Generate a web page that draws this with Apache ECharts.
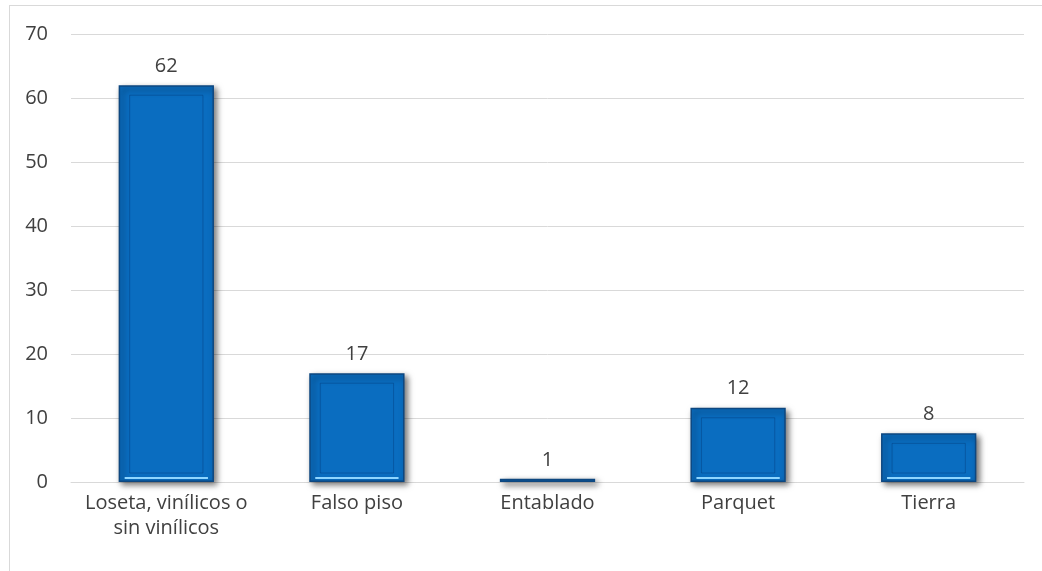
<!DOCTYPE html>
<html>
<head>
<meta charset="utf-8">
<script src="https://cdn.jsdelivr.net/npm/echarts@6/dist/echarts.min.js"></script>
<style>
  html, body { margin: 0; padding: 0; background: #fff; }
  #frame { position: absolute; left: 9px; top: 5px; width: 1040px; height: 570px; border: 1px solid #d9d9d9; box-sizing: border-box; }
  #chart { position: absolute; left: 0; top: 0; width: 1042px; height: 571px; }
</style>
</head>
<body>
<div id="frame"></div>
<div id="chart"></div>
<script>
// categories and values
const categories = ['Loseta, vinílicos o\nsin vinílicos', 'Falso piso', 'Entablado', 'Parquet', 'Tierra'];
const values = [62, 17, 0.5, 11.6, 7.6];
const labelValues = [62, 17, 1, 12, 8];
const yTicks = { min: 0, max: 70, interval: 10 };

const FONT = "'Open Sans', 'Noto Sans', sans-serif";
const TEXT = '#404040';

// bevel look: inner outline + light strip at the base of each bar
function renderBevel(params, api) {
  const idx = api.value(0);
  const top = api.coord([idx, api.value(1)]);
  const base = api.coord([idx, 0]);
  const w = api.size([1, 0])[0] * 0.5;
  const h = base[1] - top[1];
  const left = top[0] - w / 2;
  const children = [];
  if (h > 20) {
    children.push({
      type: 'rect',
      shape: { x: left + 11, y: top[1] + 10, width: w - 22, height: h - 19 },
      style: { fill: 'none', stroke: 'rgba(0,50,110,0.35)', lineWidth: 1 },
    });
    children.push({
      type: 'line',
      shape: { x1: left + 6, y1: base[1] - 4, x2: left + w - 6, y2: base[1] - 4 },
      style: { stroke: '#8fd6ff', lineWidth: 2 },
    });
  }
  return { type: 'group', children };
}

const chart = echarts.init(document.getElementById('chart'), null, { renderer: 'canvas' });
chart.setOption({
  animation: false,
  grid: { left: 71, right: 18, top: 34, bottom: 89 },
  xAxis: {
    type: 'category',
    data: categories,
    axisTick: { show: false },
    axisLine: { lineStyle: { color: '#d9d9d9', width: 1 } },
    axisLabel: { interval: 0, color: TEXT, fontFamily: FONT, fontSize: 20, lineHeight: 25, margin: 9 },
  },
  yAxis: {
    type: 'value',
    min: yTicks.min,
    max: yTicks.max,
    interval: yTicks.interval,
    axisLine: { show: false },
    axisTick: { show: false },
    axisLabel: { color: TEXT, fontFamily: FONT, fontSize: 20, margin: 23 },
    splitLine: { lineStyle: { color: '#d9d9d9' } },
  },
  series: [
    {
      type: 'bar',
      data: values,
      barWidth: '50%',
      itemStyle: {
        color: '#0a6dc0',
        borderColor: '#0d4780',
        borderWidth: 1.5,
        shadowColor: 'rgba(0,0,0,0.55)',
        shadowBlur: 6,
        shadowOffsetX: 3,
        shadowOffsetY: 3,
      },
      label: {
        show: true,
        position: 'top',
        distance: 9,
        color: TEXT,
        fontFamily: FONT,
        fontSize: 20,
        formatter: (p) => labelValues[p.dataIndex],
      },
    },
    {
      type: 'custom',
      renderItem: renderBevel,
      data: values.map((v, i) => [i, v]),
      silent: true,
      z: 3,
    },
  ],
});
</script>
</body>
</html>
